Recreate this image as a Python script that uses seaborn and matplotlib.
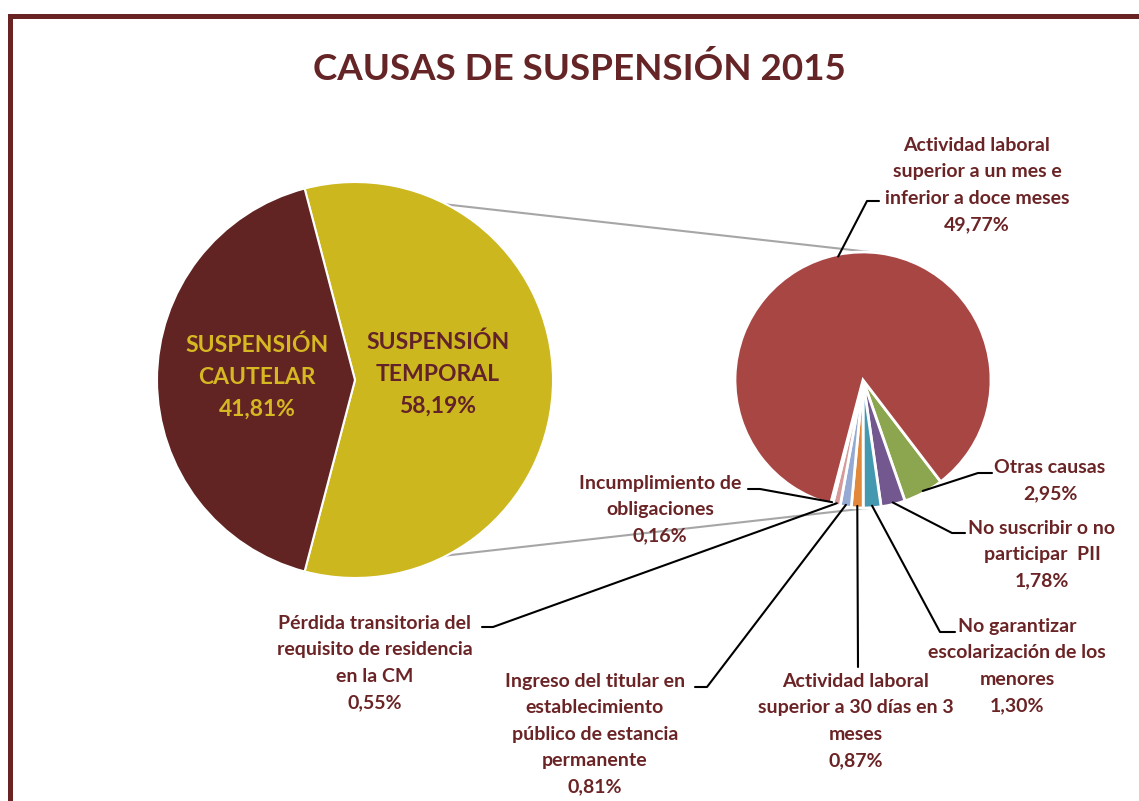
import matplotlib
matplotlib.use('Agg')
import matplotlib.pyplot as plt
import seaborn as sns
import numpy as np
from matplotlib.patches import Rectangle

sns.set_theme(style='white')
plt.rcParams['font.family'] = ['Lato', 'DejaVu Sans']

# main pie: share of each type of suspension
main_labels = ['SUSPENSIÓN\nTEMPORAL', 'SUSPENSIÓN\nCAUTELAR']
main_values = [58.19, 41.81]
main_colors = ['#CDB71F', '#622323']
main_text_colors = ['#62222A', '#D6B822']

# secondary pie: causes inside the temporal suspension
detail_labels = [
    'Otras causas',
    'No suscribir o no\nparticipar  PII',
    'No garantizar\nescolarización de los\nmenores',
    'Actividad laboral\nsuperior a 30 días en 3\nmeses',
    'Ingreso del titular en\nestablecimiento\npúblico de estancia\npermanente',
    'Pérdida transitoria del\nrequisito de residencia\nen la CM',
    'Incumplimiento de\nobligaciones',
    'Actividad laboral\nsuperior a un mes e\ninferior a doce meses',
]
detail_values = [2.95, 1.78, 1.30, 0.87, 0.81, 0.55, 0.16, 49.77]
detail_colors = ['#8CA64F', '#735890', '#4499B1', '#E1883B', '#95AAD3',
                 '#D59A99', '#C9B2B1', '#A84644']

W, H = 1139, 801
TXT = '#6B2426'


def Y(p):
    # image row -> data y
    return H - p


def pct(v):
    return f'{v:.2f}'.replace('.', ',') + '%'


def block(x, y0, lines, size, color, pitch):
    for k, line in enumerate(lines):
        ax.text(x, Y(y0 + k * pitch), line, ha='center', va='baseline',
                fontsize=size, fontweight='bold', color=color)


fig = plt.figure(figsize=(W / 100, H / 100), dpi=100)
ax = fig.add_axes([0, 0, 1, 1])

# left pie
lc, lr = (355, Y(380)), 198
lw_, _ = ax.pie(main_values, colors=main_colors, center=lc, radius=lr,
                startangle=-main_values[0] * 3.6 / 2, counterclock=True,
                wedgeprops=dict(edgecolor='white', linewidth=1.5))

# right pie
rc, rr = (863, Y(380)), 128
rw, _ = ax.pie(detail_values, colors=detail_colors, center=rc, radius=rr,
               startangle=-52.6, counterclock=False,
               wedgeprops=dict(edgecolor='white', linewidth=2))


def on_circle(c, r, deg):
    t = np.deg2rad(deg)
    return c[0] + r * np.cos(t), c[1] + r * np.sin(t)


# grey connectors between the pies
tw = lw_[0]
for a_left, a_right in [(tw.theta2, 82.4), (tw.theta1, -87.0)]:
    p1 = on_circle(lc, lr, a_left)
    p2 = on_circle(rc, rr, a_right)
    ax.plot([p1[0], p2[0]], [p1[1], p2[1]], color='#A6A6A6', lw=1.5, zorder=0)

# labels inside the main pie
main_pos = [(438, 349), (257, 352)]
for lab, v, col, (x, y) in zip(main_labels, main_values, main_text_colors, main_pos):
    block(x, y, lab.split('\n') + [pct(v)], 16.5, col, 32)

# labels + leader lines for the secondary pie
# (text centre x, first baseline, elbow, tail end)
layout = [
    ((1050, 473), (978, 473), (992, 473)),
    ((1042, 534), (952, 533), (965, 533)),
    ((1017, 632), (940, 632), (955, 632)),
    ((856, 687), (858, 667), (858, 667)),
    ((595, 687), (707, 687), (695, 687)),
    ((375, 629), (493, 627), (482, 627)),
    ((660, 489), (760, 489), (748, 489)),
    ((977, 151), (867, 201), (879, 201)),
]
for w, lab, v, ((tx, ty), (ex, ey), (fx, fy)) in zip(rw, detail_labels, detail_values, layout):
    mid = (w.theta1 + w.theta2) / 2
    ax_, ay_ = on_circle(rc, rr - 2, mid)
    ax.plot([ax_, ex, fx], [ay_, Y(ey), Y(fy)], color='black', lw=1.5, zorder=3)
    block(tx, ty, lab.split('\n') + [pct(v)], 14, TXT, 26.3)

ax.text(579, Y(80), 'CAUSAS DE SUSPENSIÓN 2015', ha='center', va='baseline',
        fontsize=26.5, fontweight='bold', color='#652426')

# dark red frame, open on right/bottom
ax.add_patch(Rectangle((9.5, -100), 1300, Y(15.5) + 100, fill=False,
                       edgecolor='#6A2323', linewidth=3.6, clip_on=False, zorder=5))

ax.set_xlim(0, W)
ax.set_ylim(0, H)
ax.set_aspect('equal')
ax.axis('off')

fig.savefig('out.png', dpi=100, facecolor='white')
